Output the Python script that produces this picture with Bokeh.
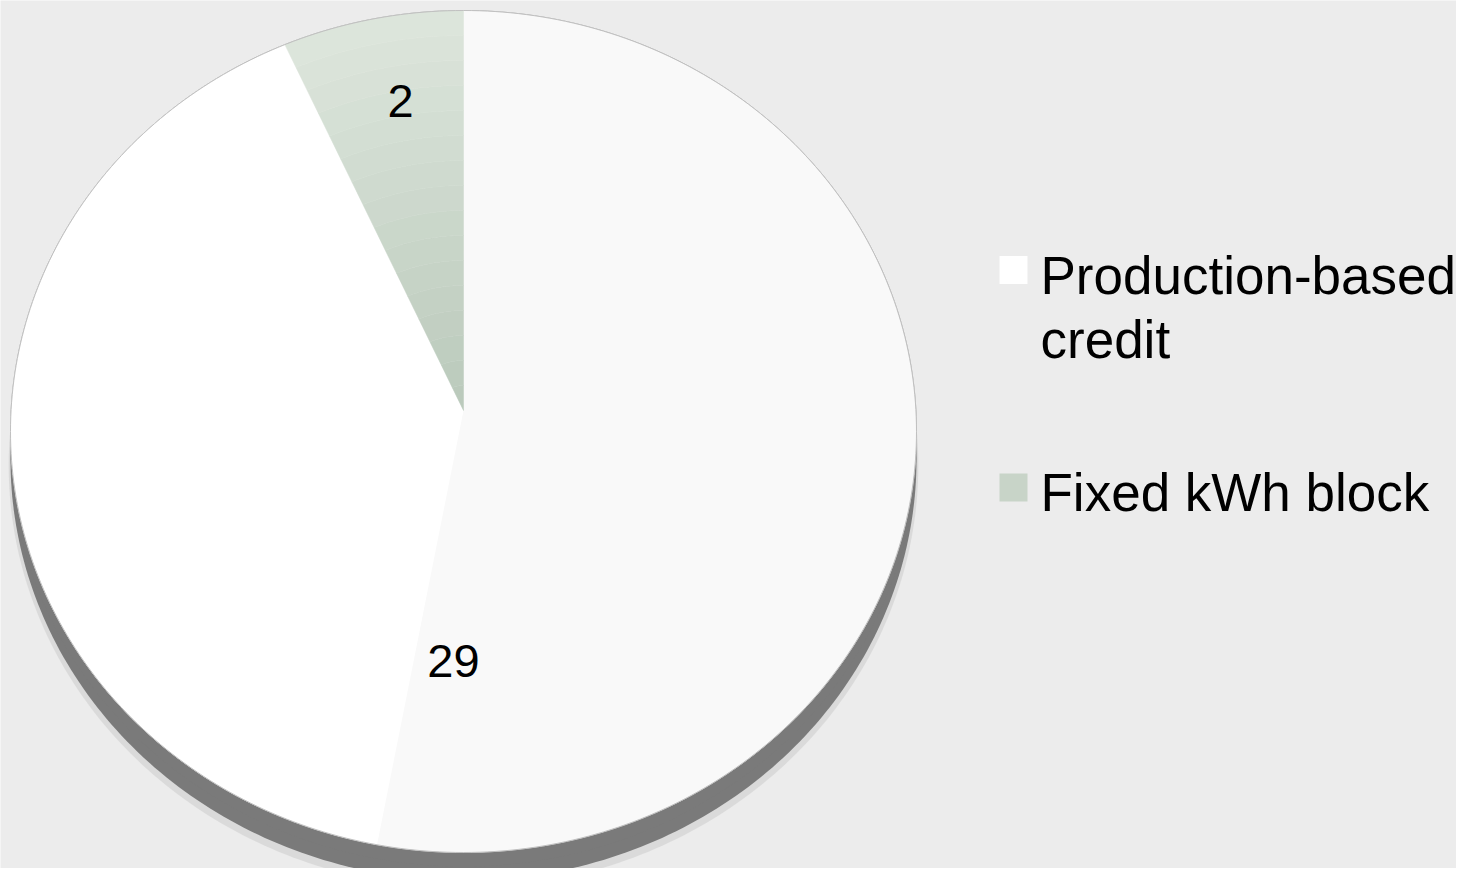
import numpy as np
from bokeh.plotting import figure
from bokeh.models import Range1d
from bokeh.embed import file_html
from bokeh.resources import INLINE
from bokeh.core.properties import value

# ---- data ----
categories = ["Production-based credit", "Fixed kWh block"]
values = [29, 2]
legend_lines = [["Production-based", "credit"], ["Fixed kWh block"]]
label_texts = [str(v) for v in values]

# ---- style / layout ----
face_colors = ["#f9f9f9", None]
fixed_grad = ("#bac9bb", "#dde6dc")
side_color = "#7a7a7a"
bg = "#ececec"
FONT = "Liberation Sans"

W, H = 1456, 868
cx, cy, rx, ry = 463.0, 431.0, 453.0, 421.0   # ellipse of pie top face (page px)
apex = (463.0, 410.0)
depth = 28.0
lit_end_angle = 259.0   # lighter (lit) front-left part of the big slice

p = figure(width=W, height=H, x_range=Range1d(0, W), y_range=Range1d(H, 0),
           output_backend="svg", toolbar_location=None, min_border=0)
p.axis.visible = False
p.grid.visible = False
p.outline_line_color = None
p.background_fill_color = bg
p.border_fill_color = bg


def ell(theta_deg, dy=0.0, sx=1.0, sy=1.0):
    t = np.radians(theta_deg)
    return cx + rx * sx * np.cos(t), cy + dy - ry * sy * np.sin(t)


# soft shadow and side band
tt = np.linspace(0, 360, 361)
sx_, sy_ = ell(tt, dy=depth + 6, sx=1.004, sy=1.004)
p.patch(sx_, sy_, fill_color="#cfcfcf", fill_alpha=0.6, line_color=None)
sx_, sy_ = ell(tt, dy=depth)
p.patch(sx_, sy_, fill_color=side_color, line_color=None)
sx_, sy_ = ell(tt, dy=depth * 0.5)
p.patch(sx_, sy_, fill_color=side_color, line_color=None)

# slice angles (clockwise from 12 o'clock)
total = float(sum(values))
spans = [v / total * 360.0 for v in values]
starts = [90.0 - sum(spans[:i]) for i in range(len(values))]
ends = [s - sp for s, sp in zip(starts, spans)]

# top face outline
fx, fy = ell(tt)
p.patch(fx, fy, fill_color=face_colors[0], line_color="#b5b5b5", line_width=1)


def blend(c1, c2, f):
    a = [int(c1[i:i + 2], 16) for i in (1, 3, 5)]
    b = [int(c2[i:i + 2], 16) for i in (1, 3, 5)]
    return "#" + "".join(f"{int(round(x + (y - x) * f)):02x}" for x, y in zip(a, b))


for i, (s, e) in enumerate(zip(starts, ends)):
    th = np.linspace(s, e, max(int(abs(s - e)) * 2, 8))
    bx, by = ell(th)
    if face_colors[i] is not None:
        xs = np.concatenate([[apex[0]], bx])
        ys = np.concatenate([[apex[1]], by])
        p.patch(xs, ys, fill_color=face_colors[i], line_color=None)
        # lit part (lighting highlight)
        lit_start = e + 360.0
        th2 = np.linspace(lit_start, lit_end_angle, 200)
        lx, ly = ell(th2)
        p.patch(np.concatenate([[apex[0]], lx]), np.concatenate([[apex[1]], ly]),
                fill_color="#ffffff", line_color=None)
    else:
        n = 16
        for k in range(n):
            f0, f1 = k / n, (k + 1) / n
            x0 = apex[0] + f0 * (bx - apex[0]); y0 = apex[1] + f0 * (by - apex[1])
            x1 = apex[0] + f1 * (bx - apex[0]); y1 = apex[1] + f1 * (by - apex[1])
            xs = np.concatenate([x0, x1[::-1]])
            ys = np.concatenate([y0, y1[::-1]])
            col = blend(fixed_grad[0], fixed_grad[1], (k + 0.5) / n)
            p.patch(xs, ys, fill_color=col, line_color=col, line_width=0.5)

# re-stroke the outline lightly
p.line(fx, fy, line_color="#c0c0c0", line_width=1)

# data labels
label_pos = [(453, 660), (400, 100)]
p.text(x=[q[0] for q in label_pos], y=[q[1] for q in label_pos], text=label_texts,
       text_font=value(FONT), text_font_size="47px", text_color="black",
       text_align="center", text_baseline="middle")

# legend
sw_y = [269.5, 487.0]
sw_cols = ["#ffffff", "#c8d4c8"]
p.rect(x=[1013, 1013], y=sw_y, width=28, height=28, fill_color=sw_cols, line_color=None)
tx, ty, tt_ = [], [], []
centers = [275, 492]
for i, lines in enumerate(legend_lines):
    for j, ln in enumerate(lines):
        tx.append(1040); ty.append(centers[i] + 64 * j); tt_.append(ln)
p.text(x=tx, y=ty, text=tt_, text_font=value(FONT), text_font_size="53px",
       text_color="black", text_align="left", text_baseline="middle")

open("out.html", "w").write(file_html(p, INLINE))
